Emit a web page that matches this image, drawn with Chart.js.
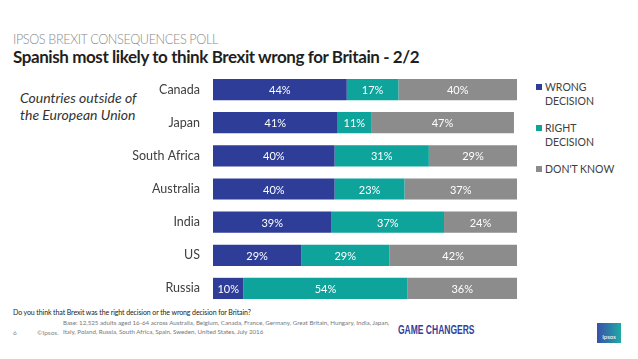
<!DOCTYPE html>
<html>
<head>
<meta charset="utf-8">
<script src="https://cdn.jsdelivr.net/npm/chart.js@4"></script>
<style>
  body { margin: 0; background: #fff; font-family: Lato, "Open Sans", sans-serif; }
  #page { position: relative; width: 638px; height: 359px; overflow: hidden; background: #fff; }
  .abs { position: absolute; white-space: nowrap; }
  #kicker { left: 13px; top: 31px; font-size: 12.7px; font-weight: 300; letter-spacing: -0.4px; color: #8a8a8a; }
  #title { left: 13px; top: 46px; font-size: 17px; font-weight: bold; letter-spacing: -0.42px; color: #1f1f1f; }
  #note { left: 20px; top: 89px; font-size: 14px; font-style: italic; color: #333; line-height: 17px; }
  #wrap { left: 0; top: 73px; width: 530px; height: 232px; }
  .leg { position: absolute; left: 545px; font-size: 10.5px; color: #404040; line-height: 14px; }
  .sw { position: absolute; left: -9px; top: 4px; width: 6px; height: 6px; }
  #question { left: 13px; top: 308px; font-size: 7px; letter-spacing: -0.1px; color: #222; }
  #base { left: 63px; top: 318px; font-size: 6.2px; color: #777; line-height: 9px; }
  #pg { left: 13px; top: 329px; font-size: 6.5px; color: #888; }
  #copy { left: 37px; top: 329px; font-size: 6.5px; color: #888; }
  #gc { left: 398px; top: 323px; font-size: 12.5px; font-weight: bold; color: #33409a; font-family: "Liberation Sans", Arial, sans-serif; transform: scaleX(0.68); transform-origin: 0 0; }
  #logo { left: 597px; top: 323px; width: 24px; height: 20px; background: linear-gradient(90deg, #3b4fa8, #1fa9a5); color: #fff; font-size: 6px; text-align: center; line-height: 28px; }
</style>
</head>
<body>
<div id="page">
  <div class="abs" id="kicker">IPSOS BREXIT CONSEQUENCES POLL</div>
  <div class="abs" id="title">Spanish most likely to think Brexit wrong for Britain - 2/2</div>
  <div class="abs" id="note">Countries outside of<br>the European Union</div>
  <div class="abs" id="wrap"><canvas id="myChart" width="530" height="232"></canvas></div>
  <div class="leg" style="top:80px"><span class="sw" style="background:#2e3d98"></span>WRONG<br>DECISION</div>
  <div class="leg" style="top:121px"><span class="sw" style="background:#0ea39b"></span>RIGHT<br>DECISION</div>
  <div class="leg" style="top:162px"><span class="sw" style="background:#8c8c8c"></span>DON'T KNOW</div>
  <div class="abs" id="question">Do you think that Brexit was the right decision or the wrong decision for Britain?</div>
  <div class="abs" id="base">Base: 12,525 adults aged 16-64 across Australia, Belgium, Canada, France, Germany, Great Britain, Hungary, India, Japan,<br>Italy, Poland, Russia, South Africa, Spain, Sweden, United States, July 2016</div>
  <div class="abs" id="pg">6</div>
  <div class="abs" id="copy">©Ipsos.</div>
  <div class="abs" id="gc">GAME CHANGERS</div>
  <div class="abs" id="logo">Ipsos</div>
</div>
<script>
var countries = ["Canada","Japan","South Africa","Australia","India","US","Russia"];
var wrongDecision = [44,41,40,40,39,29,10];
var rightDecision = [17,11,31,23,37,29,54];
var dontKnow = [40,47,29,37,24,42,36];

var seriesNames = ["WRONG DECISION","RIGHT DECISION","DON'T KNOW"];
var seriesColors = ["#2e3d98","#0ea39b","#8c8c8c"];

// white % labels in the middle of each segment
var barLabels = {
  id: "barLabels",
  afterDatasetsDraw: function(chart){
    var c = chart.ctx;
    c.save();
    c.fillStyle = "#fff";
    c.font = "11px Lato, 'Open Sans', sans-serif";
    c.textAlign = "center";
    c.textBaseline = "middle";
    chart.data.datasets.forEach(function(ds, i){
      var meta = chart.getDatasetMeta(i);
      meta.data.forEach(function(bar, j){
        var p = bar.getProps(["x","base","y"], true);
        var right = Math.min(p.x, chart.chartArea.right);
        c.fillText(ds.data[j] + "%", (right + p.base) / 2, p.y + 1);
      });
    });
    c.restore();
  }
};

var ctx = document.getElementById("myChart");
var chart = new Chart(ctx, {
  type: "bar",
  data: {
    labels: countries,
    datasets: [
      { label: seriesNames[0], data: wrongDecision, backgroundColor: seriesColors[0] },
      { label: seriesNames[1], data: rightDecision, backgroundColor: seriesColors[1] },
      { label: seriesNames[2], data: dontKnow, backgroundColor: seriesColors[2] }
    ]
  },
  options: {
    indexAxis: "y",
    responsive: false,
    animation: false,
    layout: { padding: { left: 0, right: 13, top: 0, bottom: 0 } },
    datasets: { bar: { categoryPercentage: 1, barPercentage: 0.64, borderWidth: 0 } },
    plugins: { legend: { display: false }, tooltip: { enabled: false } },
    scales: {
      x: { stacked: true, min: 0, max: 100, display: false },
      y: {
        stacked: true,
        grid: { display: false },
        border: { display: false },
        ticks: { color: "#404040", padding: 5, font: { size: 12.5, family: "Lato, 'Open Sans', sans-serif" } },
        afterFit: function(scale){
          scale.width = 213;
          scale.paddingTop = 0;
          scale.paddingBottom = 0;
        }
      }
    }
  },
  plugins: [barLabels]
});
</script>
</body>
</html>
